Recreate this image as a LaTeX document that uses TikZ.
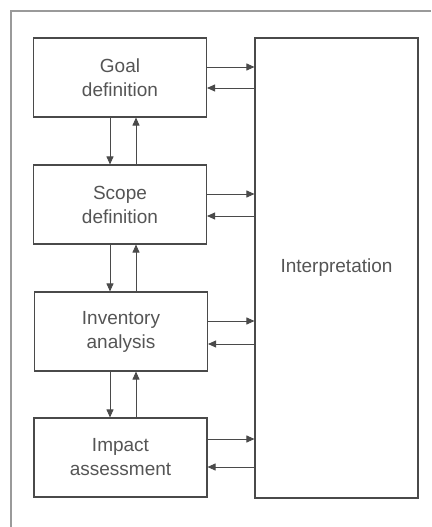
\documentclass[tikz,border=0pt]{standalone}
\usepackage{fontspec}
\setmainfont{Liberation Sans}
\usetikzlibrary{arrows.meta}
\definecolor{ln}{HTML}{4A4A4A}
\definecolor{tx}{HTML}{555555}
\definecolor{fr}{HTML}{9A9A9A}
\begin{document}
\begin{tikzpicture}[x=1pt,y=-1pt,
  box/.style={draw=ln,line width=1.1pt,fill=white,minimum width=173pt,minimum height=79pt,inner sep=0pt,align=center,font=\fontsize{19}{24}\selectfont,text=tx},
  conn/.style={draw=ln,line width=0.9pt,-{Triangle[length=8pt,width=7pt]}}]
\useasboundingbox (0,0) rectangle (431,527);
\draw[fr,line width=1.6pt] (11,527) -- (11,11) -- (431,11);
\node[box] (goal) at (120,77.5) {Goal\\definition};
\node[box] (scope) at (120,204.5) {Scope\\definition};
\node[box] (inv) at (121,331.5) {Inventory\\analysis};
\node[box] (imp) at (120.5,457.5) {Impact\\assessment};
\node[box,minimum width=163pt,minimum height=460pt] (interp) at (336.5,268) {Interpretation};
% vertical arrows
\draw[conn] (goal.south -| 110,0) -- (scope.north -| 110,0);
\draw[conn] (scope.north -| 136,0) -- (goal.south -| 136,0);
\draw[conn] (scope.south -| 110,0) -- (inv.north -| 110,0);
\draw[conn] (inv.north -| 136,0) -- (scope.south -| 136,0);
\draw[conn] (inv.south -| 110,0) -- (imp.north -| 110,0);
\draw[conn] (imp.north -| 136,0) -- (inv.south -| 136,0);
% horizontal arrows
\draw[conn] (goal.east |- 0,67) -- (interp.west |- 0,67);
\draw[conn] (interp.west |- 0,88) -- (goal.east |- 0,88);
\draw[conn] (scope.east |- 0,194) -- (interp.west |- 0,194);
\draw[conn] (interp.west |- 0,216) -- (scope.east |- 0,216);
\draw[conn] (inv.east |- 0,321) -- (interp.west |- 0,321);
\draw[conn] (interp.west |- 0,344) -- (inv.east |- 0,344);
\draw[conn] (imp.east |- 0,439) -- (interp.west |- 0,439);
\draw[conn] (interp.west |- 0,467) -- (imp.east |- 0,467);
\end{tikzpicture}
\end{document}
